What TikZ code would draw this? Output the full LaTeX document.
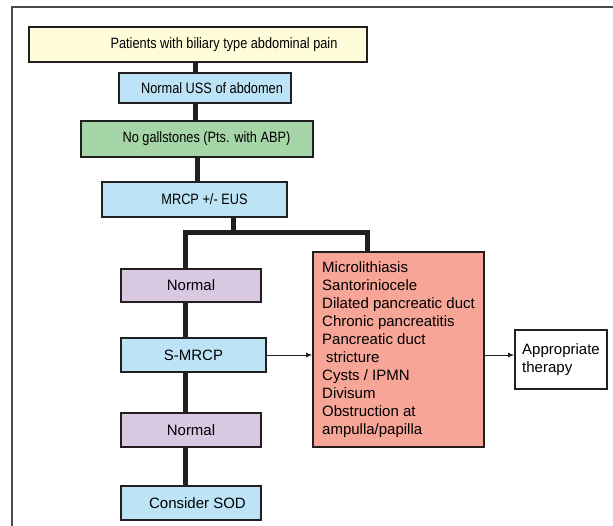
\documentclass[tikz,border=0pt]{standalone}
\usepackage{fontspec}
\setmainfont{Liberation Sans}
\newfontfamily\narrowsans[FakeStretch=0.85]{Liberation Sans}
\usetikzlibrary{arrows.meta}
\definecolor{boxline}{HTML}{231F20}
\definecolor{framegray}{HTML}{4A4A4A}
\definecolor{paleyellow}{HTML}{FFFCDA}
\definecolor{paleblue}{HTML}{BDE4F6}
\definecolor{palegreen}{HTML}{A6D5A8}
\definecolor{palepurple}{HTML}{D8C8E2}
\definecolor{salmon}{HTML}{F6A597}
\tikzset{
  box/.style={draw=boxline, line width=1.8pt, inner sep=0pt, align=center,
    font=\narrowsans\fontsize{15}{18}\selectfont},
  lowbox/.style={box, font=\rmfamily\fontsize{15}{18}\selectfont},
  listbox/.style={lowbox, align=left},
  trunk/.style={draw=boxline, line width=5pt},
  pointer/.style={draw=boxline, line width=0.8pt, -{Latex[length=6pt,width=5pt]}}
}

\begin{document}
\begin{tikzpicture}[x=1pt,y=-1pt]
		%%%%% START %%%%%
		\useasboundingbox (0,0) rectangle (613,526);
		\draw[framegray, line width=1.8pt] (12,526) |- (613,7);
		
		\node[box, fill=paleyellow, minimum width=338pt, minimum height=35pt] (pat) at (198,44.5) {\hspace*{52pt}Patients with biliary type abdominal pain};
		\node[box, fill=paleblue, minimum width=172pt, minimum height=30pt] (uss) at (205,88) {\hspace*{14pt}Normal USS of abdomen};
		\node[box, fill=palegreen, minimum width=232pt, minimum height=36pt] (nogs) at (197,139) {\hspace*{19pt}No gallstones (Pts. with ABP)};
		\node[box, fill=paleblue, minimum width=185pt, minimum height=35pt] (mrcp) at (194.5,199.5) {\hspace*{20pt}MRCP +/- EUS};
		
		\node[lowbox, fill=palepurple, minimum width=140pt, minimum height=33pt] (norm1) at (191,285.5) {Normal};
		\node[lowbox, fill=paleblue, minimum width=145pt, minimum height=34pt] (smrcp) at (193.5,355) {S-MRCP};
		\node[lowbox, fill=palepurple, minimum width=140pt, minimum height=34pt] (norm2) at (191,430) {Normal};
		\node[lowbox, fill=paleblue, minimum width=140pt, minimum height=34pt] (sod) at (191,503) {\hspace*{13pt}Consider SOD};
		
		\node[listbox, fill=salmon, minimum width=171pt, minimum height=195pt] (find) at (398.5,349.5) {Microlithiasis\\ Santoriniocele\\ Dilated pancreatic duct\\ Chronic pancreatitis\\ Pancreatic duct\\ \hspace*{4pt}stricture\\ Cysts / IPMN\\ Divisum\\ Obstruction at\\ ampulla/papilla};
		\node[listbox, fill=white, minimum width=92pt, minimum height=59pt] (ther) at (561,359.5) {Appropriate\\ therapy};
		
		\coordinate (stem) at (195,0);
		\coordinate (fork) at (233,233);
		\coordinate (lft) at (185,233);
		\coordinate (rgt) at (367,233);
		
		\draw[trunk] (pat.south -| stem) -- (uss.north -| stem);
		\draw[trunk] (uss.south -| stem) -- (nogs.north -| stem);
		\draw[trunk] (nogs.south) -- (nogs.south |- mrcp.north);
		\draw[trunk] (mrcp.south -| fork) -- (fork);
		\draw[trunk] (norm1.north -| lft) -- (lft) -- (rgt) -- (find.north -| rgt);
		\draw[trunk] (norm1.south -| lft) -- (smrcp.north -| lft);
		\draw[trunk] (smrcp.south -| lft) -- (norm2.north -| lft);
		\draw[trunk] (norm2.south -| lft) -- (sod.north -| lft);
		
		\draw[pointer] (smrcp.east) -- (smrcp.east -| find.west);
		\draw[pointer] (find.east |- smrcp.east) -- (ther.west |- smrcp.east);
		%%%%% END %%%%%
\end{tikzpicture}
\end{document}
